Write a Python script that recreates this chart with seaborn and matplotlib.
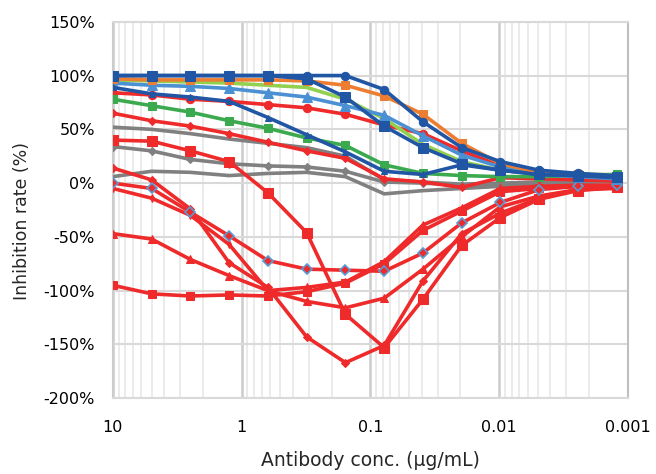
import numpy as np
import pandas as pd
import matplotlib
matplotlib.use("Agg")
import matplotlib.pyplot as plt
import seaborn as sns
from matplotlib.ticker import LogLocator, FixedLocator, MultipleLocator, PercentFormatter, NullFormatter

sns.set_style("white")
plt.rcParams['font.family'] = ['DejaVu Sans']
plt.rcParams['axes.unicode_minus'] = False

# antibody concentrations (ug/mL), 2-fold dilution series
conc = [10, 5, 2.5, 1.25, 0.625, 0.3125, 0.156, 0.078, 0.039, 0.0195, 0.00977, 0.00488, 0.00244, 0.00122]

# inhibition rate (%) per antibody
gray_hi = [52, 50, 46, 41, 37, 33, 25, 3, 1, -1, 0, 1, 2, 3]
gray_diamond = [34, 30, 22, 18, 16, 15, 11, 1, 0, -2, -1, 0, 2, 3]
gray_lo = [6, 11, 10, 7, 9, 10, 6, -10, -7, -5, -3, -1, 0, 2]

red_circle = [84, 82, 78, 76, 73, 70, 64, 54, 46, 30, 16, 9, 6, 4]
red_diamond = [65, 58, 53, 46, 38, 30, 23, 4, 1, -4, 5, 4, 3, 2]
red_square_hi = [40, 39, 30, 20, -9, -46, -122, -153, -108, -58, -32, -15, -7, -4]
red_diamond_lo = [14, 3, -24, -74, -97, -143, -167, -151, -91, -47, -28, -14, -6, -3]
red_open_diamond = [0, -5, -27, -49, -72, -80, -81, -82, -65, -37, -18, -6, -3, -2]
red_small = [-5, -14, -30, -57, -100, -97, -92, -73, -39, -23, -5, -3, -2, -2]
red_triangle = [-47, -52, -71, -86, -100, -110, -116, -107, -80, -50, -22, -12, -6, -5]
red_square_lo = [-95, -103, -105, -104, -105, -101, -93, -75, -44, -26, -8, -5, -3, -2]

green = [78, 72, 66, 58, 51, 42, 35, 17, 9, 7, 6, 6, 7, 8]
light_green = [96, 95, 94, 93, 91, 89, 78, 60, 36, 20, 12, 9, 8, 8]
light_blue = [93, 91, 90, 88, 84, 80, 72, 63, 44, 26, 15, 8, 6, 4]
orange = [97, 96, 96, 96, 96, 95, 91, 81, 64, 37, 18, 10, 8, 6]
dk_blue_small = [89, 83, 80, 76, 61, 45, 29, 11, 8, 17, 12, 8, 7, 5]
dk_blue_square = [100, 100, 100, 100, 100, 97, 80, 53, 33, 18, 12, 8, 7, 6]
dk_blue_circle = [100, 100, 100, 100, 100, 100, 100, 87, 57, 33, 20, 12, 9, 7]

GRAY = "#808080"
RED = "#EE2A2A"
GREEN = "#3BAA4E"
LGREEN = "#92D050"
LBLUE = "#4A90D2"
ORANGE = "#ED7D31"
DBLUE = "#2156A5"

# (values, color, marker, markersize, extra kwargs)
series = [
    (gray_hi, GRAY, None, 0, {}),
    (gray_lo, GRAY, None, 0, {}),
    (gray_diamond, GRAY, "D", 4, {}),
    (red_square_lo, RED, "s", 6, {}),
    (red_triangle, RED, "^", 6, {}),
    (red_small, RED, "d", 4, {}),
    (red_diamond_lo, RED, "D", 4, {}),
    (red_square_hi, RED, "s", 7, {}),
    (red_open_diamond, RED, "D", 5, {"markerfacecolor": RED, "markeredgecolor": "#5B9BD5", "markeredgewidth": 1.2}),
    (red_diamond, RED, "D", 4, {}),
    (red_circle, RED, "o", 6, {}),
    (green, GREEN, "s", 6, {}),
    (light_green, LGREEN, None, 0, {}),
    (light_blue, LBLUE, "^", 7, {}),
    (dk_blue_small, DBLUE, "^", 5, {}),
    (orange, ORANGE, "s", 6, {}),
    (dk_blue_square, DBLUE, "s", 7, {}),
    (dk_blue_circle, DBLUE, "o", 6, {}),
]

fig, ax = plt.subplots(figsize=(6.56, 4.74), dpi=100)
fig.subplots_adjust(left=0.172, right=0.957, top=0.954, bottom=0.160)

for vals, col, mk, ms, kw in series:
    df = pd.DataFrame({"conc": conc, "rate": vals})
    sns.lineplot(data=df, x="conc", y="rate", ax=ax, color=col, linewidth=2.6,
                 marker=mk, markersize=ms, markeredgecolor=kw.pop("markeredgecolor", col),
                 **kw, zorder=3)

ax.set_xscale("log")
ax.set_xlim(10, 0.001)
ax.set_ylim(-200, 150)
ax.yaxis.set_major_locator(MultipleLocator(50))
ax.yaxis.set_major_formatter(PercentFormatter(decimals=0))
ax.xaxis.set_major_locator(FixedLocator([10, 1, 0.1, 0.01, 0.001]))
ax.set_xticklabels(["10", "1", "0.1", "0.01", "0.001"])
ax.xaxis.set_minor_locator(LogLocator(base=10, subs=np.arange(2, 10)))
ax.xaxis.set_minor_formatter(NullFormatter())

ax.grid(which="major", axis="y", color="#D9D9D9", linewidth=1.5)
ax.grid(which="major", axis="x", color="#CCCCCC", linewidth=1.8)
ax.grid(which="minor", axis="x", color="#E8E8E8", linewidth=1.2)
ax.set_axisbelow(True)
for s in ax.spines.values():
    s.set_color("#D9D9D9")
    s.set_linewidth(1.5)
ax.spines["left"].set_color("#CCCCCC")
ax.spines["right"].set_color("#BFBFBF")

ax.tick_params(axis="both", which="both", length=0, labelsize=11.5, colors="#000000")
ax.tick_params(axis="x", pad=16)
ax.tick_params(axis="y", pad=13)
ax.set_xlabel("Antibody conc. (μg/mL)", fontsize=13.5, labelpad=11)
ax.set_ylabel("Inhibition rate (%)", fontsize=12.5, labelpad=8)
ax.yaxis.set_label_coords(-0.158, 0.47)

fig.savefig("out.png", dpi=100)
